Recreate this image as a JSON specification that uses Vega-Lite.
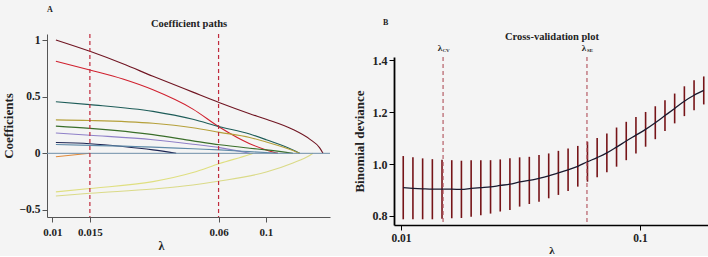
{
  "$schema": "https://vega.github.io/schema/vega-lite/v6.json",
  "background": "#f4f4f4",
  "padding": {"left": 2, "top": 6, "right": 0, "bottom": 0},
  "spacing": 22,
  "config": {
    "view": {"stroke": null},
    "font": "Liberation Serif",
    "axis": {"labelFont": "Liberation Serif", "titleFont": "Liberation Serif", "labelFontWeight": "bold", "titleFontWeight": "bold", "labelColor": "#222", "titleColor": "#222", "grid": false}
  },
  "datasets": {
    "coef": [
      {"path": "p1", "lambda": 0.0104, "coef": 1.0},
      {"path": "p1", "lambda": 0.015, "coef": 0.9},
      {"path": "p1", "lambda": 0.0214, "coef": 0.79},
      {"path": "p1", "lambda": 0.0296, "coef": 0.68},
      {"path": "p1", "lambda": 0.0455, "coef": 0.54},
      {"path": "p1", "lambda": 0.0607, "coef": 0.447},
      {"path": "p1", "lambda": 0.0839, "coef": 0.35},
      {"path": "p1", "lambda": 0.1003, "coef": 0.3},
      {"path": "p1", "lambda": 0.1337, "coef": 0.21},
      {"path": "p1", "lambda": 0.1601, "coef": 0.125},
      {"path": "p1", "lambda": 0.178, "coef": 0.05},
      {"path": "p1", "lambda": 0.1848, "coef": 0.0},
      {"path": "p2", "lambda": 0.0104, "coef": 0.813},
      {"path": "p2", "lambda": 0.015, "coef": 0.735},
      {"path": "p2", "lambda": 0.0214, "coef": 0.655},
      {"path": "p2", "lambda": 0.0296, "coef": 0.56},
      {"path": "p2", "lambda": 0.0455, "coef": 0.39},
      {"path": "p2", "lambda": 0.0607, "coef": 0.23},
      {"path": "p2", "lambda": 0.0839, "coef": 0.085},
      {"path": "p2", "lambda": 0.1003, "coef": 0.03},
      {"path": "p2", "lambda": 0.1138, "coef": 0.0},
      {"path": "p3", "lambda": 0.0104, "coef": 0.455},
      {"path": "p3", "lambda": 0.015, "coef": 0.43},
      {"path": "p3", "lambda": 0.0296, "coef": 0.37},
      {"path": "p3", "lambda": 0.0455, "coef": 0.3},
      {"path": "p3", "lambda": 0.0607, "coef": 0.235},
      {"path": "p3", "lambda": 0.0839, "coef": 0.17},
      {"path": "p3", "lambda": 0.1003, "coef": 0.12},
      {"path": "p3", "lambda": 0.1337, "coef": 0.03},
      {"path": "p3", "lambda": 0.1438, "coef": 0.0},
      {"path": "p4", "lambda": 0.0104, "coef": 0.295},
      {"path": "p4", "lambda": 0.015, "coef": 0.29},
      {"path": "p4", "lambda": 0.0296, "coef": 0.265},
      {"path": "p4", "lambda": 0.0455, "coef": 0.225},
      {"path": "p4", "lambda": 0.0607, "coef": 0.185},
      {"path": "p4", "lambda": 0.0839, "coef": 0.14},
      {"path": "p4", "lambda": 0.1003, "coef": 0.1},
      {"path": "p4", "lambda": 0.1337, "coef": 0.025},
      {"path": "p4", "lambda": 0.1438, "coef": 0.0},
      {"path": "p5", "lambda": 0.0104, "coef": 0.24},
      {"path": "p5", "lambda": 0.015, "coef": 0.22},
      {"path": "p5", "lambda": 0.0296, "coef": 0.165},
      {"path": "p5", "lambda": 0.0455, "coef": 0.11},
      {"path": "p5", "lambda": 0.0607, "coef": 0.075},
      {"path": "p5", "lambda": 0.0839, "coef": 0.045},
      {"path": "p5", "lambda": 0.1003, "coef": 0.03},
      {"path": "p5", "lambda": 0.1337, "coef": 0.0},
      {"path": "p6", "lambda": 0.0104, "coef": 0.18},
      {"path": "p6", "lambda": 0.015, "coef": 0.16},
      {"path": "p6", "lambda": 0.0296, "coef": 0.12},
      {"path": "p6", "lambda": 0.0455, "coef": 0.08},
      {"path": "p6", "lambda": 0.0607, "coef": 0.05},
      {"path": "p6", "lambda": 0.0839, "coef": 0.0},
      {"path": "p7", "lambda": 0.0104, "coef": 0.095},
      {"path": "p7", "lambda": 0.015, "coef": 0.085},
      {"path": "p7", "lambda": 0.0214, "coef": 0.06},
      {"path": "p7", "lambda": 0.0296, "coef": 0.03},
      {"path": "p7", "lambda": 0.038, "coef": 0.0},
      {"path": "p8", "lambda": 0.0104, "coef": 0.078},
      {"path": "p8", "lambda": 0.015, "coef": 0.07},
      {"path": "p8", "lambda": 0.0296, "coef": 0.055},
      {"path": "p8", "lambda": 0.0455, "coef": 0.04},
      {"path": "p8", "lambda": 0.0607, "coef": 0.03},
      {"path": "p8", "lambda": 0.0839, "coef": 0.015},
      {"path": "p8", "lambda": 0.1138, "coef": 0.0},
      {"path": "p9", "lambda": 0.0104, "coef": -0.03},
      {"path": "p9", "lambda": 0.015, "coef": 0.0},
      {"path": "p10", "lambda": 0.0104, "coef": -0.34},
      {"path": "p10", "lambda": 0.015, "coef": -0.31},
      {"path": "p10", "lambda": 0.0296, "coef": -0.25},
      {"path": "p10", "lambda": 0.0455, "coef": -0.17},
      {"path": "p10", "lambda": 0.0607, "coef": -0.09},
      {"path": "p10", "lambda": 0.0839, "coef": -0.01},
      {"path": "p10", "lambda": 0.087, "coef": 0.0},
      {"path": "p11", "lambda": 0.0104, "coef": -0.376},
      {"path": "p11", "lambda": 0.015, "coef": -0.352},
      {"path": "p11", "lambda": 0.0296, "coef": -0.315},
      {"path": "p11", "lambda": 0.0455, "coef": -0.28},
      {"path": "p11", "lambda": 0.0607, "coef": -0.245},
      {"path": "p11", "lambda": 0.1003, "coef": -0.165},
      {"path": "p11", "lambda": 0.1337, "coef": -0.085},
      {"path": "p11", "lambda": 0.1601, "coef": -0.02},
      {"path": "p11", "lambda": 0.166, "coef": 0.0}
    ],
    "cv": [
      {"lambda": 0.01022, "lo": 0.787, "hi": 1.031, "mean": 0.909},
      {"lambda": 0.01122, "lo": 0.787, "hi": 1.026, "mean": 0.9065},
      {"lambda": 0.01232, "lo": 0.787, "hi": 1.022, "mean": 0.9045},
      {"lambda": 0.01353, "lo": 0.787, "hi": 1.019, "mean": 0.903},
      {"lambda": 0.01485, "lo": 0.789, "hi": 1.017, "mean": 0.903},
      {"lambda": 0.01631, "lo": 0.791, "hi": 1.015, "mean": 0.903},
      {"lambda": 0.0179, "lo": 0.792, "hi": 1.013, "mean": 0.9025},
      {"lambda": 0.01966, "lo": 0.797, "hi": 1.015, "mean": 0.906},
      {"lambda": 0.02158, "lo": 0.803, "hi": 1.015, "mean": 0.909},
      {"lambda": 0.0237, "lo": 0.809, "hi": 1.015, "mean": 0.912},
      {"lambda": 0.02602, "lo": 0.817, "hi": 1.018, "mean": 0.9175},
      {"lambda": 0.02856, "lo": 0.823, "hi": 1.022, "mean": 0.9225},
      {"lambda": 0.03136, "lo": 0.836, "hi": 1.026, "mean": 0.931},
      {"lambda": 0.03443, "lo": 0.846, "hi": 1.028, "mean": 0.937},
      {"lambda": 0.0378, "lo": 0.855, "hi": 1.035, "mean": 0.945},
      {"lambda": 0.0415, "lo": 0.868, "hi": 1.041, "mean": 0.9545},
      {"lambda": 0.04556, "lo": 0.881, "hi": 1.051, "mean": 0.966},
      {"lambda": 0.05002, "lo": 0.896, "hi": 1.06, "mean": 0.978},
      {"lambda": 0.05492, "lo": 0.913, "hi": 1.07, "mean": 0.9915},
      {"lambda": 0.06029, "lo": 0.932, "hi": 1.086, "mean": 1.009},
      {"lambda": 0.06619, "lo": 0.949, "hi": 1.101, "mean": 1.025},
      {"lambda": 0.07267, "lo": 0.968, "hi": 1.118, "mean": 1.043},
      {"lambda": 0.07978, "lo": 0.99, "hi": 1.141, "mean": 1.0655},
      {"lambda": 0.08759, "lo": 1.015, "hi": 1.163, "mean": 1.089},
      {"lambda": 0.09617, "lo": 1.041, "hi": 1.182, "mean": 1.1115},
      {"lambda": 0.10554, "lo": 1.067, "hi": 1.201, "mean": 1.134},
      {"lambda": 0.11587, "lo": 1.096, "hi": 1.223, "mean": 1.1595},
      {"lambda": 0.12721, "lo": 1.128, "hi": 1.246, "mean": 1.187},
      {"lambda": 0.13964, "lo": 1.157, "hi": 1.272, "mean": 1.2145},
      {"lambda": 0.15334, "lo": 1.185, "hi": 1.3, "mean": 1.2425},
      {"lambda": 0.16834, "lo": 1.208, "hi": 1.323, "mean": 1.2655},
      {"lambda": 0.18482, "lo": 1.23, "hi": 1.338, "mean": 1.284}
    ],
    "cuts": [
      {"lam": 0.015, "sub": "CV"},
      {"lam": 0.06, "sub": "SE"}
    ]
  },
  "hconcat": [
    {
      "width": 283,
      "height": 183,
      "title": {"text": "A", "anchor": "start", "frame": "group", "fontSize": 8, "fontWeight": "bold", "font": "Liberation Serif", "color": "#222", "offset": 4},
      "resolve": {"axis": {"x": "independent"}},
      "layer": [
        {
          "data": {"name": "coef"},
          "mark": {"type": "line", "strokeWidth": 1.1, "interpolate": "monotone"},
          "encoding": {
            "x": {"field": "lambda", "type": "quantitative",
              "scale": {"type": "log", "domain": [0.00945, 0.1993], "nice": false},
              "axis": {"values": [0.01, 0.015, 0.06, 0.1], "format": "~g", "title": "λ", "titleFontSize": 12, "titleX": 114, "titlePadding": 3, "labelFontSize": 11, "labelPadding": 4, "tickSize": 5, "domainColor": "#555", "tickColor": "#555", "labelFlush": false}},
            "y": {"field": "coef", "type": "quantitative",
              "scale": {"domain": [-0.562, 1.053], "nice": false, "zero": false},
              "axis": {"values": [-0.5, 0, 0.5, 1], "format": "~g", "title": "Coefficients", "titleFontSize": 13, "titlePadding": 4, "labelFontSize": 11.5, "labelPadding": 2, "tickSize": 5, "domainColor": "#555", "tickColor": "#555"}},
            "color": {"field": "path", "type": "nominal", "legend": null,
              "scale": {"domain": ["p1", "p2", "p3", "p4", "p5", "p6", "p7", "p8", "p9", "p10", "p11"],
                "range": ["#701522", "#d0202e", "#1d5c58", "#b5a03a", "#3a6e2a", "#8f80c8", "#1c2452", "#5f8aa8", "#e08a3a", "#dfdf80", "#dada88"]}}
          }
        },
        {
          "data": {"values": [{"z": 0}]},
          "mark": {"type": "rule", "color": "#6f8fa8", "strokeWidth": 1},
          "encoding": {"y": {"field": "z", "type": "quantitative"}}
        },
        {
          "data": {"name": "cuts"},
          "mark": {"type": "rule", "color": "#c02a3c", "strokeDash": [4, 3], "strokeWidth": 1.2},
          "encoding": {
            "x": {"field": "lam", "type": "quantitative",
              "axis": {"orient": "top", "title": "Coefficient paths", "domain": false, "ticks": false, "labels": false, "titleFontSize": 10.5, "titlePadding": 6}}
          }
        }
      ]
    },
    {
      "width": 315,
      "height": 191,
      "title": {"text": "B", "anchor": "start", "frame": "group", "fontSize": 8, "fontWeight": "bold", "font": "Liberation Serif", "color": "#222", "offset": 4, "dx": -11},
      "resolve": {"axis": {"x": "independent"}},
      "layer": [
        {
          "data": {"name": "cv"},
          "mark": {"type": "rule", "color": "#761418", "strokeWidth": 1.6},
          "encoding": {
            "x": {"field": "lambda", "type": "quantitative",
              "scale": {"type": "log", "domain": [0.00935, 0.1944], "nice": false},
              "axis": {"values": [0.01, 0.1], "format": "~g", "title": "λ", "titleFontSize": 11, "titlePadding": 1, "labelFontSize": 11.5, "labelPadding": 2, "tickSize": 5, "domainColor": "#000", "tickColor": "#000", "domainWidth": 1.5, "labelFlush": false}},
            "y": {"field": "lo", "type": "quantitative",
              "scale": {"domain": [0.765, 1.413], "nice": false, "zero": false, "range": [191, 23]},
              "axis": {"values": [0.8, 1.0, 1.2, 1.4], "format": ".1f", "title": "Binomial deviance", "titleFontSize": 13, "titlePadding": 6, "labelFontSize": 12, "labelPadding": 2, "tickSize": 5, "domainColor": "#000", "tickColor": "#000", "domainWidth": 1.8}},
            "y2": {"field": "hi"}
          }
        },
        {
          "data": {"name": "cv"},
          "mark": {"type": "line", "color": "#1a1a2e", "strokeWidth": 1.3, "interpolate": "monotone"},
          "encoding": {
            "x": {"field": "lambda", "type": "quantitative", "axis": null},
            "y": {"field": "mean", "type": "quantitative"}
          }
        },
        {
          "data": {"name": "cuts"},
          "mark": {"type": "rule", "color": "#b0505a", "strokeDash": [4, 3], "strokeWidth": 1.1},
          "encoding": {
            "x": {"field": "lam", "type": "quantitative",
              "axis": {"orient": "top", "offset": -23, "title": "Cross-validation plot", "domain": false, "ticks": false, "labels": false, "titleFontSize": 10.5, "titlePadding": 16}},
            "y": {"datum": 1.413},
            "y2": {"datum": 0.765}
          }
        },
        {
          "data": {"name": "cuts"},
          "mark": {"type": "text", "text": "λ", "font": "Liberation Serif", "fontWeight": "bold", "fontSize": 9, "color": "#222", "dx": -3, "dy": -9, "baseline": "middle"},
          "encoding": {
            "x": {"field": "lam", "type": "quantitative", "axis": null},
            "y": {"datum": 1.413}
          }
        },
        {
          "data": {"name": "cuts"},
          "mark": {"type": "text", "font": "Liberation Serif", "fontWeight": "bold", "fontSize": 5, "color": "#222", "dx": 3, "dy": -7, "baseline": "middle"},
          "encoding": {
            "x": {"field": "lam", "type": "quantitative", "axis": null},
            "y": {"datum": 1.413},
            "text": {"field": "sub"}
          }
        }
      ]
    }
  ]
}
